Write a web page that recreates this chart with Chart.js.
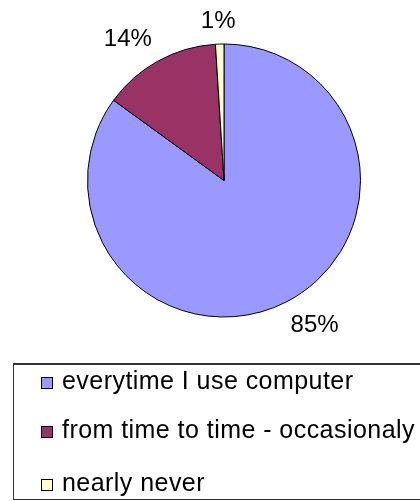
<!DOCTYPE html>
<html>
<head>
<meta charset="utf-8">
<script src="https://cdn.jsdelivr.net/npm/chart.js@4/dist/chart.umd.min.js"></script>
<style>
  html, body { margin: 0; padding: 0; background: #fff; overflow: hidden; }
  #wrap { position: relative; width: 420px; height: 501px; overflow: hidden; }
  #pieChart { position: absolute; left: 0; top: 0; }
  #legendBox {
    position: absolute; left: 13px; top: 363px; width: 440px; height: 137px;
    border: 1px solid #333; border-top-width: 2px; box-sizing: border-box;
    font-family: "Liberation Sans", Arial, sans-serif; font-size: 25px; color: #000;
    letter-spacing: 0.45px;
  }
  .row { position: absolute; left: 27px; height: 30px; line-height: 30px; white-space: nowrap; }
  .swatch { display: inline-block; width: 12px; height: 12px; border: 1px solid #000; box-sizing: border-box; margin-right: 9px; vertical-align: 0; }
</style>
</head>
<body>
<div id="wrap">
  <canvas id="pieChart" width="420" height="501"></canvas>
  <div id="legendBox"></div>
</div>
<script>
const categories = ["everytime I use computer", "from time to time - occasionaly", "nearly never"];
const shares = [85, 14, 1];
const sliceColors = ["#9999FF", "#993366", "#FFFFCC"];

document.addEventListener("DOMContentLoaded", function () {
  // percent labels just outside each slice
  const outsideLabels = {
    id: "outsideLabels",
    afterDatasetsDraw(chart) {
      const ctx = chart.ctx;
      const meta = chart.getDatasetMeta(0);
      ctx.save();
      ctx.font = "24px 'Liberation Sans', Arial, sans-serif";
      ctx.fillStyle = "#000";
      ctx.textAlign = "center";
      ctx.textBaseline = "middle";
      meta.data.forEach(function (arc, i) {
        const p = arc.getProps(["x", "y", "startAngle", "endAngle", "outerRadius"], true);
        const mid = (p.startAngle + p.endAngle) / 2;
        const dx = Math.cos(mid), dy = Math.sin(mid);
        const text = shares[i] + "%";
        const w = ctx.measureText(text).width;
        const h = 18;
        const d = p.outerRadius + 15;
        const fx = Math.max(-1, Math.min(1, dx * 2));
        const fy = Math.max(-1, Math.min(1, dy * 2));
        ctx.fillText(text, p.x + dx * d + fx * w / 2, p.y + dy * d + fy * h / 2 + 1);
      });
      ctx.restore();
    }
  };

  const pieCtx = document.getElementById("pieChart").getContext("2d");
  const pieChart = new Chart(pieCtx, {
    type: "pie",
    data: {
      labels: categories,
      datasets: [
        {
          data: shares,
          backgroundColor: sliceColors,
          borderColor: "#000",
          borderWidth: 1,
          hoverOffset: 0,
        },
      ],
    },
    options: {
      responsive: false,
      animation: false,
      layout: { padding: { left: 87, right: 59, top: 43, bottom: 183 } },
      plugins: {
        legend: { display: false },
        tooltip: { enabled: false },
      },
    },
    plugins: [outsideLabels],
  });

  // legend box below the pie
  const box = document.getElementById("legendBox");
  const rowTops = [0, 49, 102];
  categories.forEach(function (name, i) {
    const row = document.createElement("div");
    row.className = "row";
    row.style.top = rowTops[i] + "px";
    const sw = document.createElement("span");
    sw.className = "swatch";
    sw.style.background = sliceColors[i];
    row.appendChild(sw);
    row.appendChild(document.createTextNode(name));
    box.appendChild(row);
  });
});
</script>
</body>
</html>
